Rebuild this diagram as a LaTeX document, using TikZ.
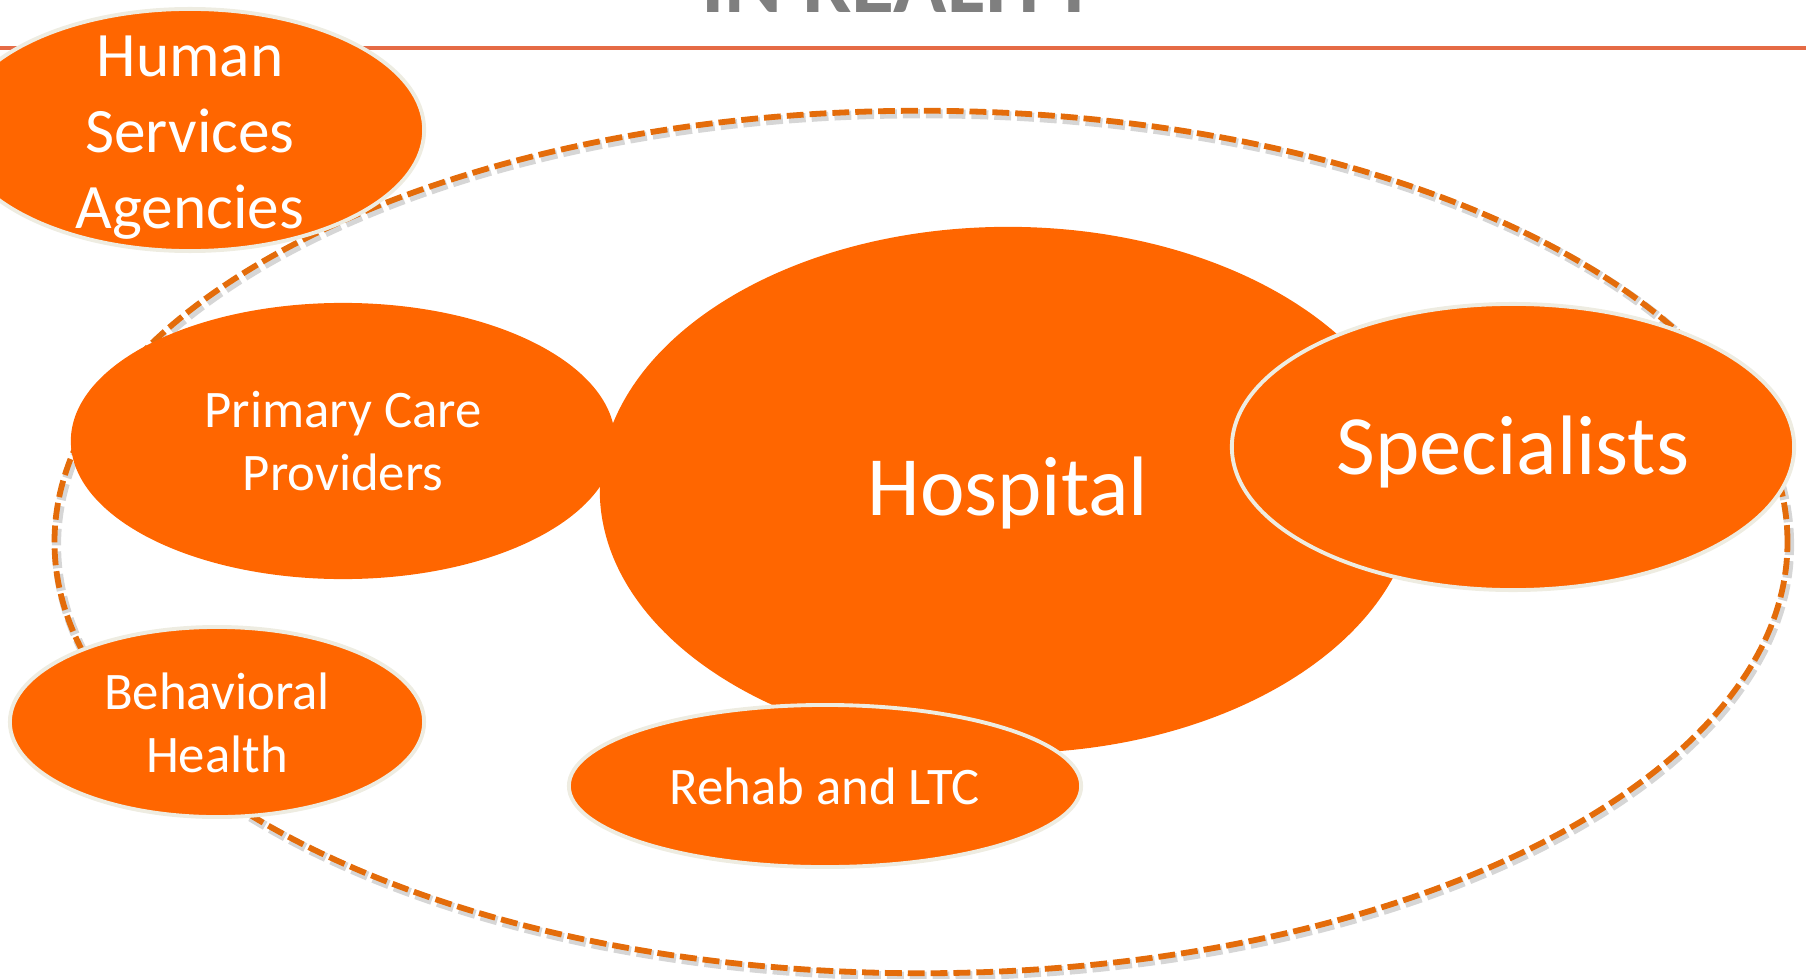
\documentclass[tikz,border=0pt]{standalone}
\usepackage{fontspec}
\setmainfont{Carlito}
\usetikzlibrary{shapes.geometric}
\definecolor{blobfill}{HTML}{FF6600}
\definecolor{rimcol}{HTML}{EEECE1}
\definecolor{ringcol}{HTML}{E46C0A}
\definecolor{rulecol}{HTML}{E56B45}
\definecolor{titlecol}{HTML}{7F7F7F}
\begin{document}
\begin{tikzpicture}[x=0.01cm, y=-0.01cm,
  blob/.style={ellipse, fill=blobfill, inner sep=0pt},
  rimmed/.style={blob, draw=rimcol, line width=1.1pt},
  ring/.style={ellipse, draw=ringcol, line width=1.65pt, dash pattern=on 4.8pt off 1.7pt,
    minimum width=17.32cm, minimum height=8.62cm, inner sep=0pt},
  lbl/.style={text=white, align=center, inner sep=0pt},
  huge/.style={lbl, font=\fontsize{24}{29}\selectfont},
  mid/.style={lbl, font=\fontsize{18}{21.6}\selectfont},
  small/.style={lbl, font=\fontsize{15}{18}\selectfont}]
\useasboundingbox (0,0) rectangle (1806,979);
% heading
\node[anchor=base, text=titlecol, font=\fontsize{25}{30}\selectfont\bfseries] (title) at (899,13) {IN REALITY};
\path[draw=rulecol, line width=1.42pt] (0,48) -- (1806,48);
% dashed ring with its shadow
\node[ring, draw=black, opacity=0.16, line width=2.6pt] (0s) at (923,545) {};
\node[ring] (0) at (921,542) {};
% the blobs
\node[rimmed, minimum width=4.68cm, minimum height=2.42cm] (1) at (190,130) {};
\node[blob, minimum width=8.16cm, minimum height=5.26cm] (2) at (1008,490) {};
\node[blob, minimum width=5.44cm, minimum height=2.76cm] (3) at (343,441) {};
\node[rimmed, minimum width=5.62cm, minimum height=2.86cm] (4) at (1513,447) {};
\node[rimmed, minimum width=5.12cm, minimum height=1.62cm] (5) at (825,786) {};
\node[rimmed, minimum width=4.14cm, minimum height=1.90cm] (6) at (217,722) {};
% texts
\node[mid] (l1) at ([yshift=-0.08cm]1) {Human\\Services\\Agencies};
\node[huge] (l2) at ([yshift=-0.03cm]2) {Hospital};
\node[small] (l3) at (3) {Primary Care\\Providers};
\node[huge] (l4) at ([yshift=-0.05cm]4) {Specialists};
\node[small] (l5) at (5) {Rehab and LTC};
\node[small] (l6) at ([yshift=-0.01cm]6) {Behavioral\\Health};
\end{tikzpicture}
\end{document}
